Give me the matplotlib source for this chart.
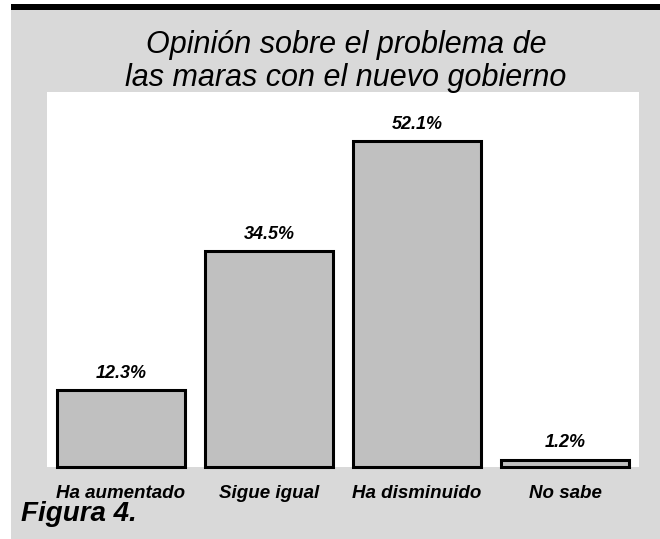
import matplotlib
matplotlib.use("Agg")
import matplotlib.pyplot as plt
from matplotlib.patches import Rectangle

categories = ["Ha aumentado", "Sigue igual", "Ha disminuido", "No sabe"]
values = [12.3, 34.5, 52.1, 1.2]
value_labels = ["12.3%", "34.5%", "52.1%", "1.2%"]
title_lines = ["Opinión sobre el problema de", "las maras con el nuevo gobierno"]
caption = "Figura 4."

FONT = ["Liberation Sans Narrow", "Liberation Sans", "DejaVu Sans"]
W, H = 660, 539
fig = plt.figure(figsize=(W / 100, H / 100), dpi=100)
fig.patch.set_facecolor("white")

# grey panel and top black band
fig.add_artist(Rectangle((11 / W, 0), 1 - 11 / W, 1 - 10 / H, transform=fig.transFigure,
                         facecolor="#d9d9d9", edgecolor="none", zorder=0))
fig.add_artist(Rectangle((11 / W, 1 - 10 / H), 1 - 11 / W, 6 / H, transform=fig.transFigure,
                         facecolor="black", edgecolor="none", zorder=1))

ax = fig.add_axes([47 / W, (H - 467) / H, (639 - 47) / W, (467 - 92) / H])
ax.set_facecolor("white")
x = list(range(len(categories)))
bars = ax.bar(x, values, width=0.86, color="#c0c0c0", edgecolor="black", linewidth=2.2,
              clip_on=False, zorder=3)
ax.set_xlim(-0.5, len(categories) - 0.5)
ax.set_ylim(0, 60)
for s in ax.spines.values():
    s.set_visible(False)
ax.set_yticks([])
ax.set_xticks(x)
ax.set_xticklabels(categories, family=FONT, fontsize=13.5, fontweight="bold", style="italic")
ax.tick_params(axis="x", length=0, pad=13)
for xi, v, lab in zip(x, values, value_labels):
    ax.annotate(lab, (xi, v), xytext=(0, 6), textcoords="offset points", ha="center", va="bottom",
                family=FONT, fontsize=13, fontweight="bold", style="italic")

fig.text(346 / W, 1 - 45 / H, title_lines[0], ha="center", va="center", family=FONT,
         fontsize=22, style="italic")
fig.text(346 / W, 1 - 78 / H, title_lines[1], ha="center", va="center", family=FONT,
         fontsize=22, style="italic")
fig.text(21 / W, 1 - 514 / H, caption, ha="left", va="center", family=FONT,
         fontsize=20, fontweight="bold", style="italic")

fig.savefig("out.png", dpi=100)
